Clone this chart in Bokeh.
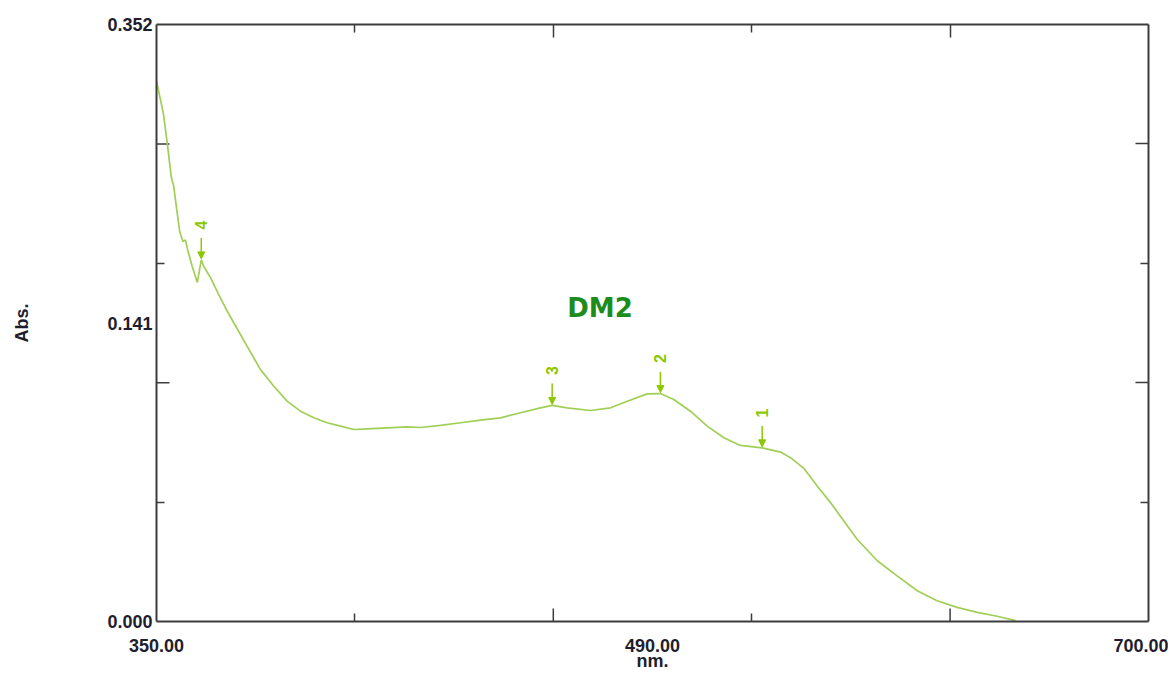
import math
from bokeh.plotting import figure
from bokeh.models import (LinearAxis, FixedTicker, Range1d, Label, Arrow, NormalHead,
                          ColumnDataSource, CustomJSTickFormatter)
from bokeh.core.properties import value
from bokeh.embed import file_html
from bokeh.resources import INLINE

# ---------------- data ----------------
wavelength = [350.0, 352.4, 353.8, 355.2, 356.1, 357.3, 358.2, 359.3, 360.2, 361.0,
              362.6, 364.4, 365.8, 366.7, 369.1, 372.0, 374.3, 377.3, 382.0, 386.7,
              391.4, 396.1, 400.8, 405.5, 410.2, 414.9, 419.6, 424.3, 431.4, 438.5,
              443.1, 450.2, 457.3, 464.3, 471.4, 478.4, 485.5, 489.6, 494.9, 503.1,
              510.2, 516.1, 523.1, 527.8, 532.5, 538.4, 544.3, 550.2, 556.0, 563.7,
              570.2, 573.7, 578.4, 583.1, 587.8, 592.5, 597.2, 604.3, 611.3, 618.4,
              625.4, 632.5, 639.6, 646.6, 653.1]
absorbance = [0.3187, 0.2997, 0.2820, 0.2622, 0.2563, 0.2409, 0.2299, 0.2240, 0.2250, 0.2191,
              0.2093, 0.1999, 0.2132, 0.2093, 0.2026, 0.1926, 0.1850, 0.1760, 0.1622, 0.1485,
              0.1387, 0.1299, 0.1240, 0.1201, 0.1172, 0.1152, 0.1132, 0.1136, 0.1142, 0.1148,
              0.1144, 0.1156, 0.1172, 0.1187, 0.1201, 0.1231, 0.1260, 0.1274, 0.1260, 0.1244,
              0.1260, 0.1299, 0.1342, 0.1344, 0.1309, 0.1240, 0.1152, 0.1083, 0.1038, 0.1024,
              0.0999, 0.0966, 0.0903, 0.0799, 0.0701, 0.0593, 0.0485, 0.0358, 0.0269, 0.0181,
              0.0122, 0.0083, 0.0054, 0.0031, 0.0005]

peak_labels = ["1", "2", "3", "4"]
peak_nm = [563.7, 527.8, 489.6, 365.8]
peak_abs = [0.1024, 0.1344, 0.1274, 0.2132]

sample_name = "DM2"
x_title = "nm."
y_title = "Abs."

x_label_values = [350, 525, 700]
x_label_texts = ["350.00", "490.00", "700.00"]
x_long_ticks = [490, 630]
x_short_ticks = [420, 560]

y_label_values = [0.0, 0.176, 0.352]
y_label_texts = ["0.000", "0.141", "0.352"]
y_long_ticks = [0.1408, 0.2816]
y_short_ticks = [0.0704, 0.2112]

X_MIN, X_MAX = 350, 700
Y_MIN, Y_MAX = 0.0, 0.352

# ---------------- layout ----------------
W, H = 1168, 673
BL, BR, BT, BB = 156, 20, 24, 50
FRAME_W = W - BL - BR
FRAME_H = H - BT - BB
px_x = (X_MAX - X_MIN) / FRAME_W   # data units per pixel
px_y = (Y_MAX - Y_MIN) / FRAME_H

LINE_COLOR = "#a0cf55"
MARK_COLOR = "#8cc800"
AXIS_COLOR = "#3c3c3c"
TEXT_COLOR = "#1e1e2e"
FONT = "Liberation Sans"
FONT_SIZE = "18px"
LONG_TICK = 13
SHORT_TICK = 8

p = figure(width=W, height=H, x_range=Range1d(X_MIN, X_MAX), y_range=Range1d(Y_MIN, Y_MAX),
           x_axis_location=None, y_axis_location=None,
           output_backend="svg", toolbar_location=None,
           min_border_left=BL, min_border_right=BR, min_border_top=BT, min_border_bottom=BB)
p.outline_line_color = None
p.background_fill_color = "white"
p.border_fill_color = "white"
p.grid.visible = False


def style_axis(ax):
    ax.axis_line_color = AXIS_COLOR
    ax.axis_line_width = 2
    ax.major_tick_line_color = AXIS_COLOR
    ax.minor_tick_line_color = AXIS_COLOR
    ax.major_tick_line_width = 1.5
    ax.minor_tick_line_width = 1.5
    ax.major_tick_out = 0
    ax.minor_tick_out = 0
    ax.major_label_text_font = FONT
    ax.major_label_text_font_style = "bold"
    ax.major_label_text_font_size = FONT_SIZE
    ax.major_label_text_color = TEXT_COLOR
    ax.axis_label_text_font = FONT
    ax.axis_label_text_font_style = "bold"
    ax.axis_label_text_font_size = FONT_SIZE
    ax.axis_label_text_color = TEXT_COLOR


# bottom axis: labels + short ticks + title
xb = LinearAxis(ticker=FixedTicker(ticks=x_label_values, minor_ticks=x_short_ticks),
                major_label_overrides=dict(zip(x_label_values, x_label_texts)),
                axis_label=x_title)
style_axis(xb)
xb.major_tick_in = 0
xb.minor_tick_in = SHORT_TICK
xb.major_label_standoff = 17
xb.axis_label_standoff = -4
p.add_layout(xb, "below")

# left axis: labels + short ticks + title
yl = LinearAxis(ticker=FixedTicker(ticks=y_label_values, minor_ticks=y_short_ticks),
                major_label_overrides=dict(zip(y_label_values, y_label_texts)),
                axis_label=y_title)
style_axis(yl)
yl.major_tick_in = 0
yl.minor_tick_in = SHORT_TICK
yl.major_label_standoff = 4
yl.axis_label_standoff = 72
p.add_layout(yl, "left")

# top and right axes: ticks only
empty = CustomJSTickFormatter(code="return ''")
xt = LinearAxis(ticker=FixedTicker(ticks=x_long_ticks, minor_ticks=x_short_ticks), formatter=empty)
style_axis(xt)
xt.major_tick_in = LONG_TICK
xt.minor_tick_in = SHORT_TICK
xt.major_label_standoff = 0
xt.major_label_text_font_size = "1px"
p.add_layout(xt, "above")

yr = LinearAxis(ticker=FixedTicker(ticks=y_long_ticks, minor_ticks=y_short_ticks), formatter=empty)
style_axis(yr)
yr.major_tick_in = LONG_TICK
yr.minor_tick_in = SHORT_TICK
yr.major_label_standoff = 0
yr.major_label_text_font_size = "1px"
p.add_layout(yr, "right")

# long ticks on bottom and left edges
p.segment(x0=x_long_ticks, y0=[Y_MIN] * len(x_long_ticks),
          x1=x_long_ticks, y1=[Y_MIN + LONG_TICK * px_y] * len(x_long_ticks),
          line_color=AXIS_COLOR, line_width=1.5)
p.segment(x0=[X_MIN] * len(y_long_ticks), y0=y_long_ticks,
          x1=[X_MIN + LONG_TICK * px_x] * len(y_long_ticks), y1=y_long_ticks,
          line_color=AXIS_COLOR, line_width=1.5)

# spectrum
p.line(wavelength, absorbance, line_color=LINE_COLOR, line_width=1.7)

# peak markers
arrow_src = ColumnDataSource(dict(
    xs=peak_nm, ys=[a + 22 * px_y for a in peak_abs],
    xe=peak_nm, ye=[a + 1 * px_y for a in peak_abs]))
p.add_layout(Arrow(end=NormalHead(size=7, fill_color=MARK_COLOR, line_color=MARK_COLOR),
                   x_start="xs", y_start="ys", x_end="xe", y_end="ye", source=arrow_src,
                   line_color=MARK_COLOR, line_width=1.5))
label_src = ColumnDataSource(dict(x=peak_nm, y=[a + 35 * px_y for a in peak_abs], t=peak_labels))
p.text(x="x", y="y", text="t", source=label_src, angle=math.pi / 2,
       text_align="center", text_baseline="middle", text_font=value(FONT),
       text_font_style="bold", text_font_size="16px", text_color=MARK_COLOR)

# sample name
p.add_layout(Label(x=506.5, y=0.185, text=sample_name, text_align="center", text_baseline="middle",
                   text_font="DejaVu Sans", text_font_style="bold", text_font_size="26px",
                   text_color="#1c8c1c"))

open("out.html", "w").write(file_html(p, INLINE))
